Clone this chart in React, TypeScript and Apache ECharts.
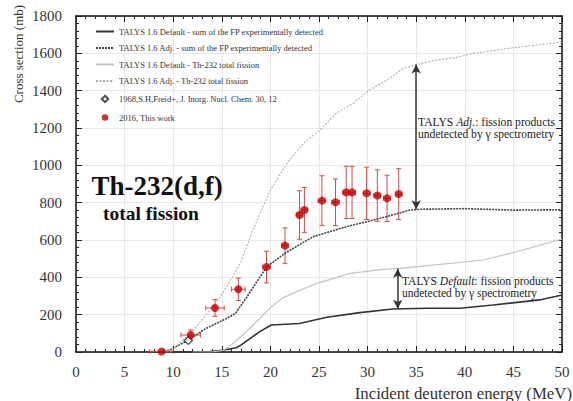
import React, { useEffect, useRef } from "react";
import * as echarts from "echarts";

const FONT = "Liberation Serif, serif";

// TALYS 1.6 Default - sum of FP experimentally detected
const defFP: [number, number][] = [
  [10, 0], [13.4, 0], [15.2, 11], [16.5, 23], [17.0, 38], [18.9, 109], [20.1, 145],
  [23.0, 153], [25.8, 186], [29.2, 211], [32.6, 230], [36.1, 234], [39.5, 234],
  [42.9, 252], [47.7, 279], [50, 305],
];
// TALYS 1.6 Adj. - sum of FP experimentally detected
const adjFP: [number, number][] = [
  [8.8, 0], [9.7, 11], [11.55, 64], [13.4, 127], [15.5, 180], [16.4, 207], [17.6, 296],
  [18.9, 400], [19.6, 455], [21.5, 529], [24.4, 618], [27.8, 671], [31.3, 716],
  [34.4, 761], [35.7, 765], [40, 768], [45, 760], [50, 762],
];
// TALYS 1.6 Default - Th-232 total fission
const defTot: [number, number][] = [
  [12, 0], [14.0, 0], [15.2, 10], [16.2, 47], [17.9, 127], [20.0, 238], [21.3, 290],
  [23.0, 330], [24.8, 368], [28.2, 421], [31.6, 443], [33.3, 448], [38.5, 475],
  [41.9, 493], [45.3, 537], [50, 605],
];
// TALYS 1.6 Adj. - Th-232 total fission
const adjTot: [number, number][] = [
  [8.8, 0], [10, 15], [12.1, 118], [14.5, 270], [15.5, 350], [16.9, 475], [18.2, 654],
  [20.0, 868], [21.7, 1011], [23.4, 1118], [25.1, 1189], [26.8, 1279], [28.5, 1332],
  [30.2, 1404], [32.0, 1457], [33.7, 1520], [35.0, 1540], [36.8, 1561], [39.2, 1579],
  [40.9, 1600], [42.9, 1614], [45.3, 1632], [47.5, 1645], [50, 1660],
];
// 1968, S.H. Freid+
const freid: [number, number][] = [[11.55, 62]];
// 2016, This work
const x2016 = [8.8, 11.8, 14.3, 16.7, 19.6, 21.5, 23.0, 23.5, 25.3, 26.7, 27.8, 28.4, 29.9, 31.0, 32.0, 33.2];
const y2016 = [3, 91, 236, 336, 455, 570, 734, 761, 811, 802, 855, 855, 850, 838, 823, 846];
const yErr2016 = [0, 27, 45, 60, 85, 95, 130, 120, 133, 125, 140, 140, 140, 138, 124, 136];
const xErr2016 = [1.2, 1.0, 0.95, 0.7, 0.4, 0.35, 0.35, 0.35, 0.4, 0.4, 0.35, 0.35, 0.35, 0.35, 0.35, 0.35];

// Arrows (gap annotations)
const adjArrow: [number, number][] = [[35.0, 1540], [35.0, 765]];
const defArrow: [number, number][] = [[33.1, 446], [33.1, 232]];

const xTicks = { min: 0, max: 50, interval: 5 };
const yTicks = { min: 0, max: 1800, interval: 200 };

const names = [
  "TALYS 1.6 Default - sum of the FP experimentally detected",
  "TALYS 1.6 Adj. - sum of the FP experimentally detected",
  "TALYS 1.6 Default - Th-232 total fission",
  "TALYS 1.6 Adj. - Th-232 total fission",
  "1968,S.H,Freid+, J. Inorg. Nucl. Chem. 30, 12",
  "2016, This work",
];

export default function App() {
  const ref = useRef<HTMLDivElement>(null);
  useEffect(() => {
    if (!ref.current) return;
    const chart = echarts.init(ref.current, null, { renderer: "svg" });
    const errData = x2016.map((x, i) => [x, y2016[i], yErr2016[i], xErr2016[i]]);
    const pts2016 = x2016.map((x, i) => [x, y2016[i]]);
    const tickCommon = {
      axisTick: { show: true, inside: true, length: 6, lineStyle: { color: "#222", width: 1 } },
      minorTick: { show: true, splitNumber: 5, length: 3, lineStyle: { color: "#222", width: 1 } },
      axisLine: { show: true, onZero: false, lineStyle: { color: "#111", width: 1.5 } },
    };
    const lab = { fontFamily: FONT, fontSize: 15, color: "#333", formatter: (v: number) => String(v) };
    const arrowLine = (coords: [number, number][]) => ({
      silent: true,
      symbol: ["arrow", "arrow"],
      symbolSize: [7, 9],
      lineStyle: { color: "#333", width: 1.5, type: "solid" },
      label: { show: false },
      data: [[{ coord: coords[0] }, { coord: coords[1] }]],
    });
    const hideSym = { opacity: 0 };
    chart.setOption({
      animation: false,
      textStyle: { fontFamily: FONT },
      grid: { left: 76, right: 11, top: 16, bottom: 49, show: false },
      legend: {
        orient: "vertical",
        left: 95,
        top: 27,
        padding: 0,
        itemWidth: 18,
        itemHeight: 10,
        itemGap: 7.5,
        textStyle: { fontFamily: FONT, fontSize: 8.5, color: "#333" },
        data: [
          { name: names[0], itemStyle: hideSym },
          { name: names[1], itemStyle: hideSym },
          { name: names[2], itemStyle: hideSym },
          { name: names[3], itemStyle: hideSym },
          { name: names[4], icon: "path://M0,0 M10,10 M5,1.8 L8.2,5 L5,8.2 L1.8,5 Z" },
          { name: names[5], icon: "path://M0,0 M10,10 M5,1.8 A3.2,3.2 0 1,1 5,8.2 A3.2,3.2 0 1,1 5,1.8 Z" },
        ],
      },
      xAxis: [
        {
          type: "value", ...xTicks, position: "bottom", ...tickCommon,
          axisLabel: { ...lab, margin: 12 },
          splitLine: { show: true, lineStyle: { color: "#e8e8e8", width: 1 } },
        },
        {
          type: "value", ...xTicks, position: "top", ...tickCommon,
          axisLabel: { show: false }, splitLine: { show: false },
        },
      ],
      yAxis: [
        {
          type: "value", ...yTicks, position: "left", ...tickCommon,
          axisLabel: { ...lab, margin: 14 },
          splitLine: { show: true, lineStyle: { color: "#e8e8e8", width: 1 } },
        },
        {
          type: "value", ...yTicks, position: "right", ...tickCommon,
          axisLabel: { show: false }, splitLine: { show: false },
        },
      ],
      series: [
        {
          name: names[0], type: "line", data: defFP, symbol: "none",
          lineStyle: { color: "#333", width: 1.6, type: "solid" },
          itemStyle: { color: "#333" },
          markLine: arrowLine(defArrow),
        },
        {
          name: names[1], type: "line", data: adjFP, symbol: "none",
          lineStyle: { color: "#444", width: 1.6, type: [2, 1] },
          itemStyle: { color: "#444" },
          markLine: arrowLine(adjArrow),
        },
        {
          name: names[2], type: "line", data: defTot, symbol: "none",
          lineStyle: { color: "#c4c4c4", width: 1.2, type: "solid" },
          itemStyle: { color: "#c4c4c4" },
        },
        {
          name: names[3], type: "line", data: adjTot, symbol: "none",
          lineStyle: { color: "#b0b0b0", width: 1.1, type: [2, 1.5] },
          itemStyle: { color: "#b0b0b0" },
        },
        {
          name: "errors", type: "custom", data: errData, z: 3, silent: true,
          renderItem: (params: any, api: any) => {
            const x = api.value(0), y = api.value(1), ye = api.value(2), xe = api.value(3);
            const top = api.coord([x, y + ye]);
            const bot = api.coord([x, Math.max(0, y - ye)]);
            const l = api.coord([x - xe, y]);
            const r = api.coord([x + xe, y]);
            const c = 2.5;
            const st = { stroke: "#d24a4a", lineWidth: 1 };
            const children: any[] = [
              { type: "line", shape: { x1: l[0], y1: l[1], x2: r[0], y2: r[1] }, style: st },
              { type: "line", shape: { x1: l[0], y1: l[1] - c, x2: l[0], y2: l[1] + c }, style: st },
              { type: "line", shape: { x1: r[0], y1: r[1] - c, x2: r[0], y2: r[1] + c }, style: st },
            ];
            if (ye > 0) {
              children.push(
                { type: "line", shape: { x1: top[0], y1: top[1], x2: bot[0], y2: bot[1] }, style: st },
                { type: "line", shape: { x1: top[0] - c, y1: top[1], x2: top[0] + c, y2: top[1] }, style: st },
                { type: "line", shape: { x1: bot[0] - c, y1: bot[1], x2: bot[0] + c, y2: bot[1] }, style: st },
              );
            }
            return { type: "group", children };
          },
        },
        {
          name: names[4], type: "scatter", data: freid, symbol: "diamond", symbolSize: 8, z: 4,
          itemStyle: { color: "#fff", borderColor: "#222", borderWidth: 1.3 },
        },
        {
          name: names[5], type: "scatter", data: pts2016, symbol: "circle", symbolSize: 8, z: 5,
          itemStyle: { color: "#c00000" },
        },
      ],
      graphic: [
        {
          type: "text", left: 418, top: 116, z: 10,
          style: {
            text: "{n|TALYS }{i|Adj.}{n|: fission products}\n{n|undetected by γ spectrometry}",
            rich: {
              n: { fontFamily: FONT, fontSize: 11.6, fill: "#222", lineHeight: 12.5 },
              i: { fontFamily: FONT, fontSize: 11.6, fill: "#222", fontStyle: "italic", lineHeight: 12.5 },
            },
          },
        },
        {
          type: "text", left: 402, top: 275, z: 10,
          style: {
            text: "{n|TALYS }{i|Default}{n|: fission products}\n{n|undetected by γ spectrometry}",
            rich: {
              n: { fontFamily: FONT, fontSize: 11.5, fill: "#222", lineHeight: 12 },
              i: { fontFamily: FONT, fontSize: 11.5, fill: "#222", fontStyle: "italic", lineHeight: 12 },
            },
          },
        },
        {
          type: "text", x: 157, y: 186, z: 10,
          style: {
            text: "Th-232(d,f)", fontFamily: FONT, fontSize: 27, fontWeight: "bold",
            fill: "#111", textAlign: "center", textVerticalAlign: "middle",
          },
        },
        {
          type: "text", x: 151, y: 213, z: 10,
          style: {
            text: "total fission", fontFamily: FONT, fontSize: 19.5, fontWeight: "bold",
            fill: "#111", textAlign: "center", textVerticalAlign: "middle",
          },
        },
        {
          type: "text", x: 572, y: 393, z: 10,
          style: {
            text: "Incident deuteron energy (MeV)", fontFamily: FONT, fontSize: 16.8,
            fill: "#333", textAlign: "right", textVerticalAlign: "middle",
          },
        },
        {
          type: "text", x: 18, y: 54, rotation: Math.PI / 2, z: 10,
          style: {
            text: "Cross section (mb)", fontFamily: FONT, fontSize: 13,
            fill: "#333", textAlign: "center", textVerticalAlign: "middle",
          },
        },
      ],
    });
    return () => chart.dispose();
  }, []);
  return (
    <div
      ref={ref}
      style={{ position: "fixed", left: 0, top: 0, width: 573, height: 401, background: "#fff" }}
    />
  );
}
